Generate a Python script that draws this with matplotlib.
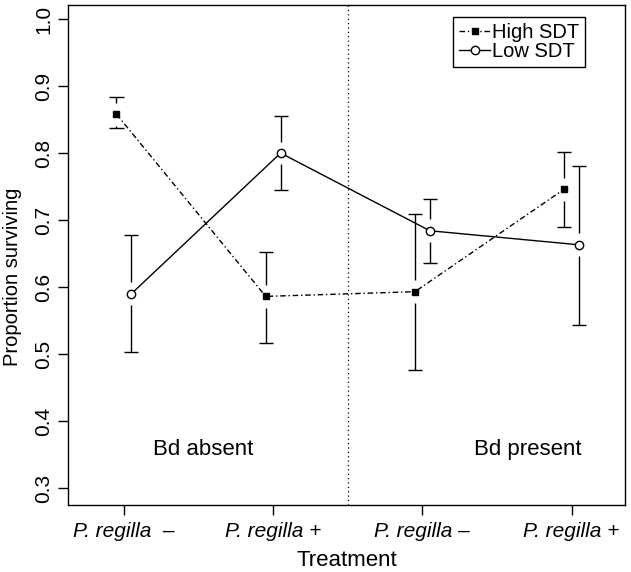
import matplotlib

matplotlib.use('Agg')
import matplotlib.pyplot as plt
from matplotlib.lines import Line2D

plt.rcParams['font.family'] = ['Liberation Sans', 'DejaVu Sans']

# Proportion surviving with confidence limits
groups = [1, 2, 3, 4]
high_mean = [0.858, 0.586, 0.593, 0.746]
high_lo = [0.837, 0.517, 0.476, 0.689]
high_hi = [0.884, 0.652, 0.709, 0.801]
low_mean = [0.590, 0.800, 0.684, 0.663]
low_lo = [0.503, 0.745, 0.636, 0.543]
low_hi = [0.678, 0.856, 0.732, 0.781]

tick_labels = ['P. regilla  \u2013', 'P. regilla +', 'P. regilla \u2013', 'P. regilla +']
y_ticks = [0.3, 0.4, 0.5, 0.6, 0.7, 0.8, 0.9, 1.0]

shift = 0.05   # high / low SDT dodge around each group
gap = 0.017    # blank space between marker and error bar
cap = 0.047

fig = plt.figure(figsize=(6.31, 5.72), dpi=100)
ax = fig.add_axes([68 / 631, 67 / 572, 557 / 631, 500 / 572])


def draw_bars(xs, mean, lo, hi):
    for x, m, l, h in zip(xs, mean, lo, hi):
        if h - m > gap:
            ax.vlines(x, m + gap, h, color='black', lw=1)
        if m - l > gap:
            ax.vlines(x, l, m - gap, color='black', lw=1)
        ax.hlines([l, h], x - cap, x + cap, color='black', lw=1)


high_x = [g - shift for g in groups]
low_x = [g + shift for g in groups]
draw_bars(high_x, high_mean, high_lo, high_hi)
draw_bars(low_x, low_mean, low_lo, low_hi)

dotdash = (0, (4, 2, 1, 2))
ax.plot(high_x, high_mean, color='black', lw=1, ls=dotdash,
        marker='s', ms=5, mfc='black', mec='black')
ax.plot(low_x, low_mean, color='black', lw=1, ls='-',
        marker='o', ms=6, mfc='white', mec='black', mew=1)

ax.axvline(2.5, color='black', lw=0.9, ls=(0, (1, 2.5)))

ax.text(1.53, 0.358, 'Bd absent', fontsize=16, ha='center', va='center')
ax.text(3.71, 0.358, 'Bd present', fontsize=16, ha='center', va='center')

ax.set_xlim(0.625, 4.358)
ax.set_ylim(0.2746, 1.021)
ax.set_xticks(groups)
ax.set_xticklabels(tick_labels, fontsize=15, style='italic')
ax.set_yticks(y_ticks)
ax.set_yticklabels([f'{v:.1f}' for v in y_ticks], fontsize=15, rotation=90, va='center')
ax.tick_params(axis='both', length=7, width=1, direction='out')
ax.tick_params(axis='x', pad=5)
ax.tick_params(axis='y', pad=3.5)

ax.set_xlabel('Treatment', fontsize=16, labelpad=7)
ax.set_ylabel('Proportion surviving', fontsize=14.5)
ax.yaxis.set_label_coords(-46 / 557, 0.456)

for s in ax.spines.values():
    s.set_linewidth(1)

handles = [
    Line2D([], [], color='black', lw=1, ls=dotdash, marker='s', ms=5),
    Line2D([], [], color='black', lw=1, marker='o', ms=6, mfc='white'),
]
leg = ax.legend(handles, ['High SDT', 'Low SDT'], loc='upper right',
                bbox_to_anchor=(585 / 631, (572 - 17) / 572),
                bbox_transform=fig.transFigure, fontsize=14.5, fancybox=False,
                framealpha=1, edgecolor='black', handlelength=1.5,
                handletextpad=0.1, borderpad=0.3, labelspacing=0.0,
                borderaxespad=0, numpoints=1)
leg.get_frame().set_linewidth(1)

plt.savefig('out.png', dpi=100)
plt.close(fig)
